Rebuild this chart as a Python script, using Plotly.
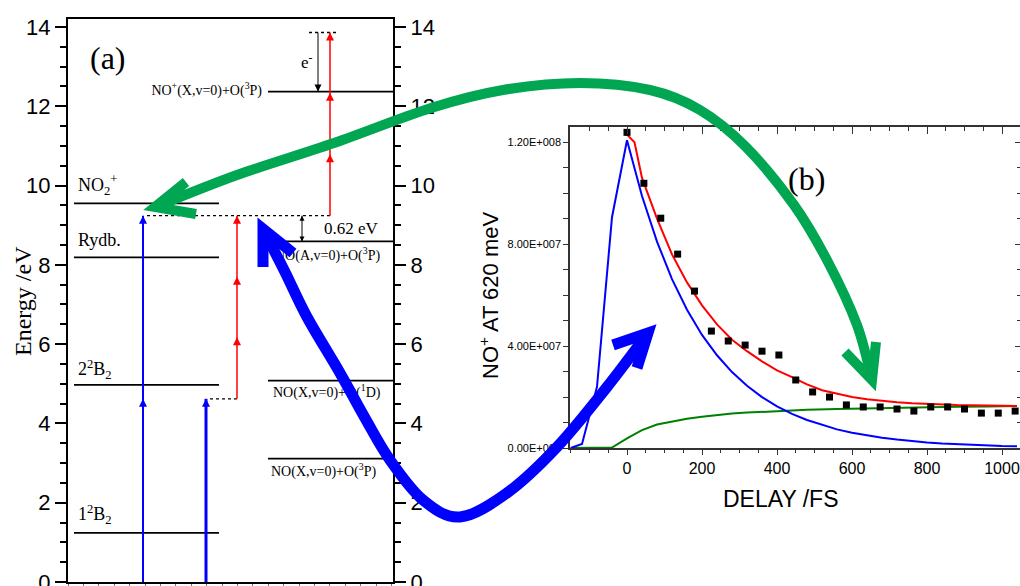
import plotly.graph_objects as go

W, H = 1020, 586

# ---------------- Panel (a): energy level diagram (values in eV) ----------------
left_state_labels = ["1<sup>2</sup>B<sub>2</sub>", "2<sup>2</sup>B<sub>2</sub>", "Rydb.", "NO<sub>2</sub><sup>+</sup>"]
left_state_energy = [1.24, 4.97, 8.19, 9.55]
right_state_labels = ["NO(X,v=0)+O(<sup>3</sup>P)", "NO(X,v=0)+O(<sup>1</sup>D)",
                      "NO(A,v=0)+O(<sup>3</sup>P)", "NO<sup>+</sup>(X,v=0)+O(<sup>3</sup>P)"]
right_state_energy = [3.11, 5.08, 8.59, 12.37]
pump_steps_a = [0.0, 4.62, 9.24]
pump_steps_b = [0.0, 4.62]
probe_steps_a = [4.62, 6.17, 7.70, 9.24]
probe_steps_b = [9.24, 10.79, 12.34, 13.86]
virtual_level = 9.24
pump_level = 4.62
top_level = 13.86
ion_level = 12.37
gap_levels = [9.24, 8.59]          # 0.62 eV
energy_tick_step = 2

# ---------------- Panel (b): NO+ signal vs delay ----------------
delay_pts = [0, 45, 90, 135, 180, 225, 270, 315, 360, 405, 450, 495,
             540, 585, 630, 675, 720, 765, 810, 855, 900, 945, 990, 1035]
signal_pts = [12.39e7, 10.39e7, 9.02e7, 7.61e7, 6.16e7, 4.59e7, 4.20e7, 4.04e7, 3.80e7, 3.65e7, 2.67e7, 2.20e7,
              2.00e7, 1.69e7, 1.61e7, 1.61e7, 1.53e7, 1.45e7, 1.61e7, 1.61e7, 1.53e7, 1.37e7, 1.37e7, 1.45e7]

blue_delay = [-150, -120, -80, -40, 0, 40, 80, 120, 160, 200, 240, 280, 320, 360, 400, 440, 480, 520,
              560, 600, 640, 680, 720, 760, 800, 840, 880, 920, 960, 1000, 1040]
blue_vals = [0.0, 0.16e7, 2.4e7, 9.06e7, 12.08e7, 9.89e7, 8.10e7, 6.63e7, 5.43e7, 4.44e7, 3.64e7, 2.98e7,
             2.44e7, 2.00e7, 1.63e7, 1.34e7, 1.10e7, 0.90e7, 0.73e7, 0.60e7, 0.49e7, 0.40e7, 0.33e7,
             0.27e7, 0.22e7, 0.18e7, 0.15e7, 0.12e7, 0.10e7, 0.08e7, 0.07e7]

green_delay = [-150, -80, -40, 0, 40, 80, 120, 160, 200, 240, 280, 320, 360, 400, 480, 560, 640, 720,
               800, 880, 960, 1040]
green_vals = [0.0, 0.0, 0.02e7, 0.38e7, 0.70e7, 0.92e7, 1.05e7, 1.15e7, 1.23e7, 1.30e7, 1.35e7, 1.39e7,
              1.42e7, 1.46e7, 1.50e7, 1.53e7, 1.56e7, 1.58e7, 1.60e7, 1.62e7, 1.63e7, 1.65e7]

red_delay = [0, 20, 40, 80, 120, 160, 200, 240, 280, 320, 360, 400, 440, 480, 520, 560, 600, 640, 680,
             720, 760, 800, 840, 880, 920, 960, 1000, 1040]
red_vals = [12.3e7, 12.0e7, 10.6e7, 9.0e7, 7.6e7, 6.5e7, 5.6e7, 4.85e7, 4.25e7, 3.8e7, 3.4e7, 3.05e7,
            2.78e7, 2.5e7, 2.27e7, 2.12e7, 2.0e7, 1.91e7, 1.85e7, 1.80e7, 1.76e7, 1.73e7, 1.71e7, 1.69e7,
            1.68e7, 1.67e7, 1.66e7, 1.65e7]

y_tick_vals_b = [0, 4e7, 8e7, 1.2e8]
y_tick_text_b = ["0.00E+000", "4.00E+007", "8.00E+007", "1.20E+008"]

# ---------------- layout geometry (pixels) ----------------
A_LEFT, A_RIGHT, A_TOP, A_BOT = 68, 393, 19, 582
B_LEFT, B_TOP, B_BOT = 570, 127, 448
E_MAX = 14.2
PPE = (A_BOT - A_TOP) / E_MAX
LEFT_X = [74, 219]
RIGHT_X = [268, 393]
SERIF = "Liberation Serif"
SANS = "Liberation Sans"

fig = go.Figure()


def hlines(xr, ys):
    X, Y = [], []
    for y in ys:
        X += [xr[0], xr[1], None]
        Y += [y, y, None]
    return X, Y


X1, Y1 = hlines(LEFT_X, left_state_energy)
X2, Y2 = hlines(RIGHT_X, right_state_energy)
fig.add_trace(go.Scatter(x=X1 + X2, y=Y1 + Y2, mode="lines", line=dict(color="black", width=1.8),
                         xaxis="x", yaxis="y", hoverinfo="skip"))

# dotted virtual levels
fig.add_trace(go.Scatter(x=[147, 330, None, 210, 237, None, 309, 337],
                         y=[virtual_level, virtual_level, None, pump_level, pump_level, None, top_level, top_level],
                         mode="lines", line=dict(color="black", width=1.4, dash="dot"),
                         xaxis="x", yaxis="y", hoverinfo="skip"))


def vert_arrow(x, steps, color, width, head):
    fig.add_trace(go.Scatter(x=[x, x], y=[steps[0], steps[-1]], mode="lines",
                             line=dict(color=color, width=width), xaxis="x", yaxis="y", hoverinfo="skip"))
    fig.add_trace(go.Scatter(x=[x] * (len(steps) - 1), y=steps[1:], mode="markers",
                             marker=dict(symbol="arrow-up", size=head, color=color, line=dict(width=0)),
                             xaxis="x", yaxis="y", hoverinfo="skip"))


vert_arrow(143, pump_steps_a, "#0000ff", 2, 8)
vert_arrow(206, pump_steps_b, "#0000ff", 3, 8)
vert_arrow(237, probe_steps_a, "#ff0000", 1.5, 8)
vert_arrow(330, probe_steps_b, "#ff0000", 1.5, 8)

# electron arrow (down)
fig.add_trace(go.Scatter(x=[318, 318], y=[top_level, ion_level], mode="lines",
                         line=dict(color="black", width=1), xaxis="x", yaxis="y", hoverinfo="skip"))
fig.add_trace(go.Scatter(x=[318], y=[ion_level], mode="markers",
                         marker=dict(symbol="arrow-down", size=7, color="black", line=dict(width=0)),
                         xaxis="x", yaxis="y", hoverinfo="skip"))
# 0.62 eV double arrow
fig.add_trace(go.Scatter(x=[302, 302], y=gap_levels, mode="lines",
                         line=dict(color="black", width=1), xaxis="x", yaxis="y", hoverinfo="skip"))
fig.add_trace(go.Scatter(x=[302, 302], y=gap_levels, mode="markers",
                         marker=dict(symbol=["arrow-up", "arrow-down"], size=5, color="black", line=dict(width=0)),
                         xaxis="x", yaxis="y", hoverinfo="skip"))

# state labels
left_off = [17, 14, 16, 17]
fig.add_trace(go.Scatter(x=[78] * 4, y=[e + o / PPE for e, o in zip(left_state_energy, left_off)],
                         mode="text", text=left_state_labels, textposition="middle right",
                         textfont=dict(family=SERIF, size=18, color="black"),
                         xaxis="x", yaxis="y", hoverinfo="skip"))
right_off = [-14, -13, -15]
right_lx = [271, 273, 275]
fig.add_trace(go.Scatter(x=right_lx, y=[e + o / PPE for e, o in zip(right_state_energy[:3], right_off)],
                         mode="text", text=right_state_labels[:3], textposition="middle right",
                         textfont=dict(family=SERIF, size=14, color="black"),
                         xaxis="x", yaxis="y", hoverinfo="skip"))
fig.add_trace(go.Scatter(x=[262], y=[right_state_energy[3]], mode="text", text=[right_state_labels[3]],
                         textposition="middle left", textfont=dict(family=SERIF, size=14, color="black"),
                         xaxis="x", yaxis="y", hoverinfo="skip"))

# dummy for right axis of panel a
fig.add_trace(go.Scatter(x=[None], y=[None], xaxis="x", yaxis="y2", showlegend=False, hoverinfo="skip"))

# ---------------- Panel (b) traces ----------------
fig.add_trace(go.Scatter(x=green_delay, y=green_vals, mode="lines", line=dict(color="#008000", width=2),
                         xaxis="x3", yaxis="y3", hoverinfo="skip"))
fig.add_trace(go.Scatter(x=blue_delay, y=blue_vals, mode="lines", line=dict(color="#0000ff", width=2),
                         xaxis="x3", yaxis="y3", hoverinfo="skip"))
fig.add_trace(go.Scatter(x=red_delay, y=red_vals, mode="lines", line=dict(color="#ff0000", width=2),
                         xaxis="x3", yaxis="y3", hoverinfo="skip"))
fig.add_trace(go.Scatter(x=delay_pts, y=signal_pts, mode="markers",
                         marker=dict(symbol="square", size=7, color="black"),
                         xaxis="x3", yaxis="y3", hoverinfo="skip"))
fig.add_trace(go.Scatter(x=[None], y=[None], xaxis="x4", yaxis="y3", showlegend=False, hoverinfo="skip"))
fig.add_trace(go.Scatter(x=[None], y=[None], xaxis="x3", yaxis="y4", showlegend=False, hoverinfo="skip"))

# ---------------- axes ----------------
dom_ax = [A_LEFT / W, A_RIGHT / W]
dom_ay = [1 - A_BOT / H, 1 - A_TOP / H]
dom_bx = [B_LEFT / W, 1.0]
dom_by = [1 - B_BOT / H, 1 - B_TOP / H]
b_range = [-152, 1048]
b_yrange = [0, 1.26e8]

ya_common = dict(range=[0, E_MAX], domain=dom_ay, showline=True, linewidth=2, linecolor="black",
                 ticks="outside", ticklen=11, tickwidth=2, tickcolor="black",
                 tickmode="linear", tick0=0, dtick=energy_tick_step,
                 tickfont=dict(family=SANS, size=22, color="black"), ticklabeloverflow="allow",
                 minor=dict(tickmode="linear", tick0=0, dtick=0.5, ticks="outside", ticklen=6, tickwidth=2,
                            tickcolor="black"),
                 showgrid=False, zeroline=False, automargin=False, fixedrange=True)

fig.update_layout(
    width=W, height=H, margin=dict(l=0, r=0, t=0, b=0, pad=0), showlegend=False,
    paper_bgcolor="white", plot_bgcolor="rgba(0,0,0,0)",
    xaxis=dict(domain=dom_ax, range=[A_LEFT, A_RIGHT], anchor="y", showline=True, linewidth=2,
               linecolor="black", mirror=True, ticks="outside", ticklen=2, tickcolor="#777",
               tickmode="linear", tick0=A_LEFT, dtick=15.4, showticklabels=False,
               showgrid=False, zeroline=False, automargin=False, fixedrange=True),
    yaxis=dict(anchor="x", side="left", **ya_common),
    yaxis2=dict(anchor="x", side="right", overlaying="y", **ya_common),
    xaxis3=dict(domain=dom_bx, range=b_range, anchor="y3", showline=True, linewidth=1.5, linecolor="#333",
                ticks="outside", ticklen=5, tickwidth=1.2, tickcolor="#333",
                tickmode="linear", tick0=0, dtick=200, ticklabeloverflow="allow",
                tickfont=dict(family=SANS, size=16, color="black"),
                minor=dict(tickmode="linear", tick0=0, dtick=50, ticks="outside", ticklen=3, tickwidth=1,
                           tickcolor="#333"),
                showgrid=False, zeroline=False, automargin=False, fixedrange=True),
    xaxis4=dict(domain=dom_bx, range=b_range, anchor="y3", overlaying="x3", side="top", showline=True,
                linewidth=1.5, linecolor="#333", ticks="inside", ticklen=7, tickwidth=1.2, tickcolor="#333",
                tickmode="linear", tick0=0, dtick=200, showticklabels=False,
                minor=dict(tickmode="linear", tick0=0, dtick=50, ticks="inside", ticklen=4, tickwidth=1,
                           tickcolor="#333"),
                showgrid=False, zeroline=False, automargin=False, fixedrange=True),
    yaxis3=dict(domain=dom_by, range=b_yrange, anchor="x3", side="left", showline=True, linewidth=1.5,
                linecolor="#333", ticks="outside", ticklen=5, tickwidth=1.2, tickcolor="#333",
                tickmode="array", tickvals=y_tick_vals_b, ticktext=y_tick_text_b, ticklabeloverflow="allow",
                tickfont=dict(family=SANS, size=11, color="black"),
                minor=dict(tickmode="linear", tick0=0, dtick=1e7, ticks="outside", ticklen=5, tickwidth=1,
                           tickcolor="#333"),
                showgrid=False, zeroline=False, automargin=False, fixedrange=True),
    yaxis4=dict(domain=dom_by, range=b_yrange, anchor="x3", overlaying="y3", side="right", showline=False,
                ticks="inside", ticklen=5, tickwidth=1.2, tickcolor="#333",
                tickmode="linear", tick0=0, dtick=4e7, showticklabels=False,
                minor=dict(tickmode="linear", tick0=0, dtick=1e7, ticks="inside", ticklen=3, tickwidth=1,
                           tickcolor="#333"),
                showgrid=False, zeroline=False, automargin=False, fixedrange=True),
)


def P(x, y):
    return x / W, 1 - y / H


def ann(text, x, y, size, family, angle=0):
    px, py = P(x, y)
    fig.add_annotation(text=text, x=px, y=py, xref="paper", yref="paper", showarrow=False,
                       xanchor="center", yanchor="middle", textangle=angle,
                       font=dict(family=family, size=size, color="black"))


ann("(a)", 108, 58, 32, SERIF)
ann("(b)", 806, 179, 32, SERIF)
ann("e<sup>-</sup>", 307, 61, 17, SERIF)
ann("0.62 eV", 351, 228, 17, SERIF)
ann("Energy /eV", 23, 301, 24, SERIF, -90)
ann("NO<sup>+</sup> AT 620 meV", 489, 296, 22, SANS, -90)
ann("DELAY /FS", 780, 499, 23, SANS)


# ---------------- big decorative curved arrows ----------------
def smooth_path(pts):
    n = len(pts)
    fmt = lambda p: "%.5f,%.5f" % P(*p)
    d = "M" + fmt(pts[0])
    for i in range(n - 1):
        p0 = pts[i - 1] if i > 0 else pts[i]
        p1, p2 = pts[i], pts[i + 1]
        p3 = pts[i + 2] if i + 2 < n else pts[i + 1]
        c1 = (p1[0] + (p2[0] - p0[0]) / 6, p1[1] + (p2[1] - p0[1]) / 6)
        c2 = (p2[0] - (p3[0] - p1[0]) / 6, p2[1] - (p3[1] - p1[1]) / 6)
        d += " C" + fmt(c1) + " " + fmt(c2) + " " + fmt(p2)
    return d


def poly_path(pts):
    return "M" + " L".join("%.5f,%.5f" % P(*p) for p in pts)


GREEN = "#00a651"
BLUE = "#0000ff"
green_way = [(155, 207), (237, 175), (334, 143), (431, 108), (503, 90), (580, 83), (650, 90), (700, 110),
             (746, 147), (794, 205), (828, 262), (857, 325), (872, 380)]
blue_way = [(263, 229), (285, 272), (307, 317), (340, 373), (365, 418), (390, 460), (423, 500), (460, 517),
            (507, 493), (557, 447), (607, 387), (648, 333)]

shapes = [
    dict(type="path", path=smooth_path(green_way), line=dict(color=GREEN, width=10)),
    dict(type="path", path=poly_path([(186, 182), (155, 207), (196, 214)]), line=dict(color=GREEN, width=10)),
    dict(type="path", path=poly_path([(845, 352), (872, 380), (876, 342)]), line=dict(color=GREEN, width=10)),
    dict(type="path", path=smooth_path(blue_way), line=dict(color=BLUE, width=11)),
    dict(type="path", path=poly_path([(263, 267), (263, 229), (293, 253)]), line=dict(color=BLUE, width=11)),
    dict(type="path", path=poly_path([(613, 345), (648, 333), (637, 368)]), line=dict(color=BLUE, width=11)),
]
for s in shapes:
    s.update(xref="paper", yref="paper", layer="above", fillcolor="rgba(0,0,0,0)")
    fig.add_shape(**s)

fig.write_html("out.html")
